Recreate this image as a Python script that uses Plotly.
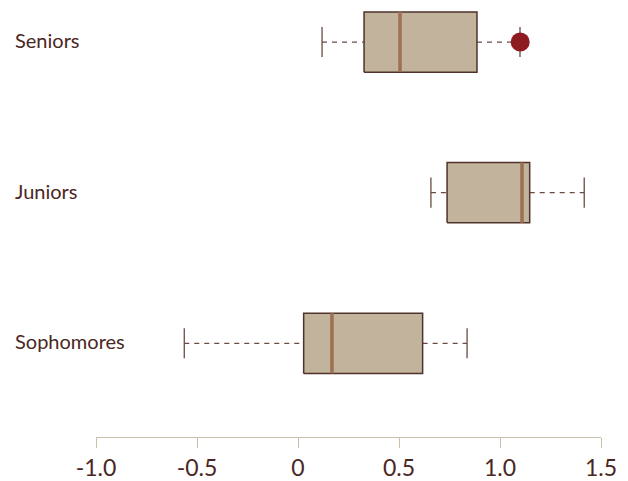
import plotly.graph_objects as go

# Class groups, bottom to top
groups = ["Sophomores", "Juniors", "Seniors"]
lower_whisker = [-0.563, 0.658, 0.119]
q1 = [0.028, 0.738, 0.327]
median = [0.168, 1.109, 0.505]
q3 = [0.617, 1.147, 0.886]
upper_whisker = [0.837, 1.417, 1.099]

# Highlighted point
highlight_group = "Seniors"
highlight_value = 1.10

x_tickvals = [-1.0, -0.5, 0.0, 0.5, 1.0, 1.5]
x_ticktext = ["-1.0", "-0.5", "0", "0.5", "1.0", "1.5"]

FILL = "#c2b39d"
EDGE = "#4e322b"
MEDIAN = "#9c7152"
WHISKER = "#6b4a44"
TEXT = "#4a2622"
AXIS = "#cbbfae"
FONT = "Lato"

BOX_HALF = 0.2
CAP_HALF = 0.1

fig = go.Figure()
for i, g in enumerate(groups):
    # dashed whiskers
    for a, b in ((lower_whisker[i], q1[i]), (q3[i], upper_whisker[i])):
        fig.add_trace(go.Scatter(
            x=[a, b], y=[i, i], mode="lines",
            line=dict(color=WHISKER, width=1.2, dash="5px,5px"),
            hoverinfo="skip", showlegend=False))
    # whisker caps
    for v in (lower_whisker[i], upper_whisker[i]):
        fig.add_trace(go.Scatter(
            x=[v, v], y=[i - CAP_HALF, i + CAP_HALF], mode="lines",
            line=dict(color=WHISKER, width=1.3),
            hoverinfo="skip", showlegend=False))
    # box
    fig.add_trace(go.Scatter(
        x=[q1[i], q3[i], q3[i], q1[i], q1[i]],
        y=[i - BOX_HALF, i - BOX_HALF, i + BOX_HALF, i + BOX_HALF, i - BOX_HALF],
        mode="lines", fill="toself", fillcolor=FILL,
        line=dict(color=EDGE, width=1.5),
        hoverinfo="skip", showlegend=False))
    # median
    fig.add_trace(go.Scatter(
        x=[median[i], median[i]], y=[i - BOX_HALF, i + BOX_HALF], mode="lines",
        line=dict(color=MEDIAN, width=3.5),
        hoverinfo="skip", showlegend=False))

fig.add_trace(go.Scatter(
    x=[highlight_value], y=[groups.index(highlight_group)], mode="markers",
    marker=dict(color="#8e1b1f", size=19, line=dict(width=0)),
    hoverinfo="skip", showlegend=False))

annotations = [
    dict(text=g, x=-0.1645, xref="paper", y=i, yref="y", yshift=2,
         xanchor="left", yanchor="middle", showarrow=False,
         font=dict(family=FONT, size=20, color=TEXT))
    for i, g in enumerate(groups)
]

fig.update_layout(
    width=628, height=481,
    margin=dict(l=96, r=27, t=0, b=44),
    paper_bgcolor="white", plot_bgcolor="white",
    annotations=annotations,
    xaxis=dict(
        range=[-1.0, 1.5], tickvals=x_tickvals, ticktext=x_ticktext,
        showgrid=False, zeroline=False, showline=True, linecolor=AXIS, linewidth=1,
        ticks="outside", ticklen=10, tickcolor=AXIS, tickwidth=1,
        tickfont=dict(family=FONT, size=23, color=TEXT),
        anchor="y", position=0),
    yaxis=dict(
        range=[-0.622, 2.279], showgrid=False, zeroline=False,
        showline=False, showticklabels=False, ticks=""),
)

fig.write_html("out.html")
